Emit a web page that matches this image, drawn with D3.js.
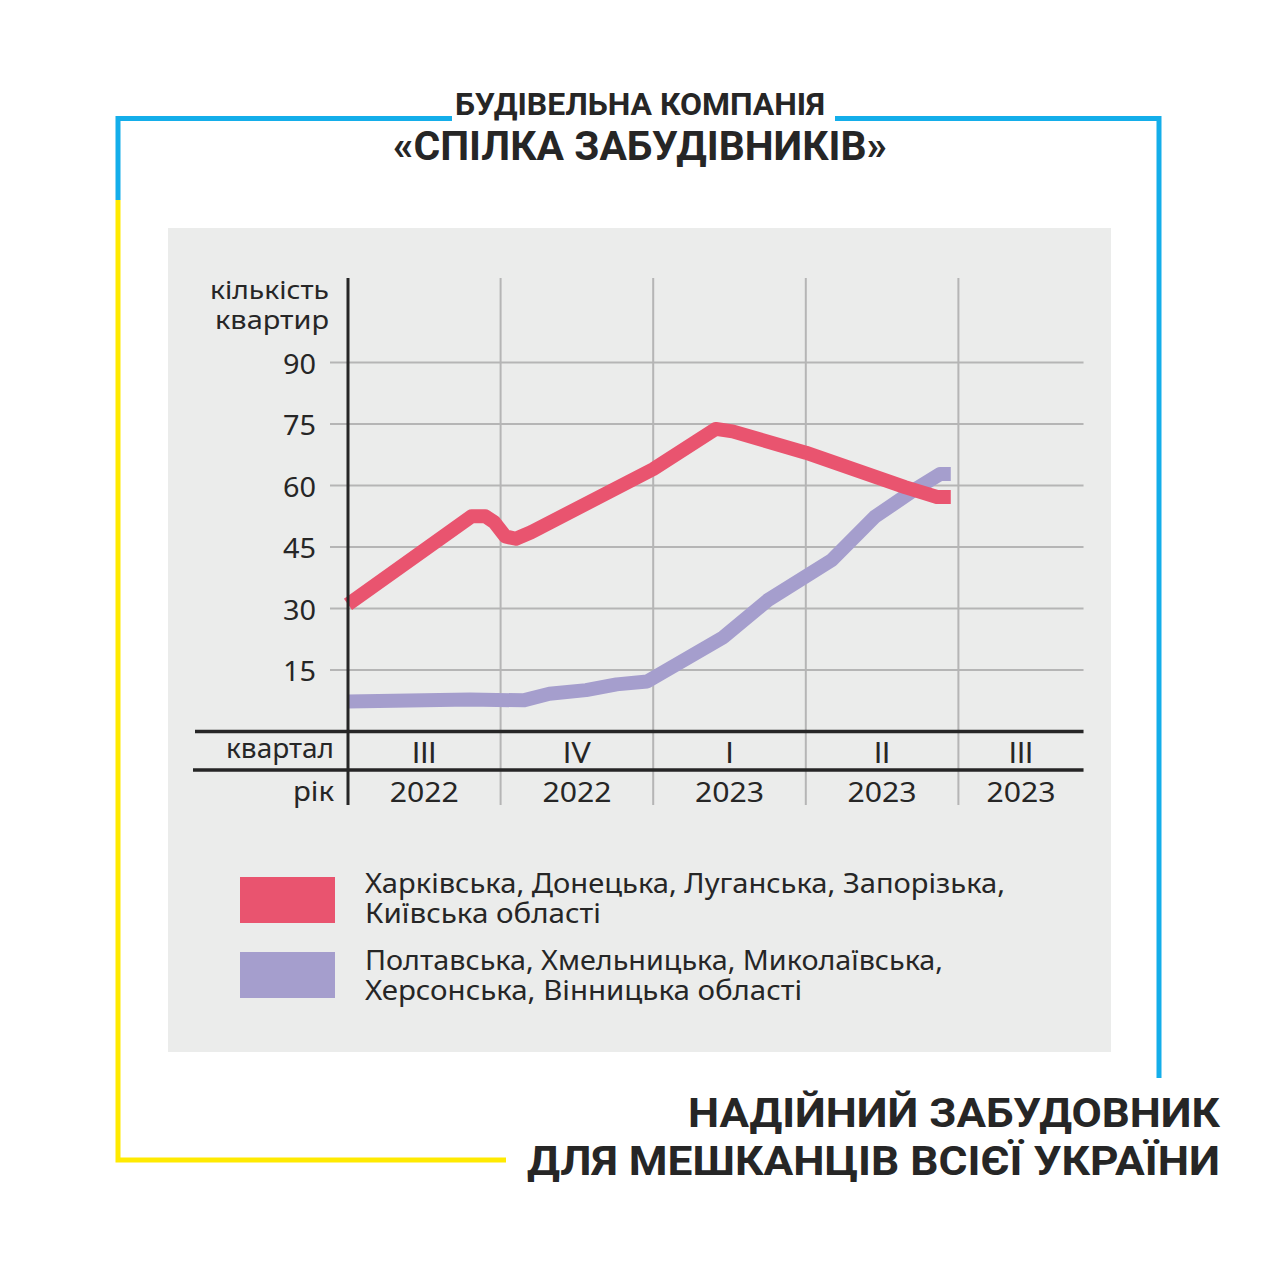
<!DOCTYPE html>
<html>
<head>
<meta charset="utf-8">
<script src="https://cdn.jsdelivr.net/npm/d3@7"></script>
<style>
  body { margin: 0; background: #fff; }
  svg { display: block; }
</style>
</head>
<body>
<svg id="chart" width="1280" height="1280"></svg>
<script>
// Data: x is position in quarters from start of III 2022
const redX = [0, 0.81, 0.9, 0.96, 1.03, 1.1, 1.2, 2.0, 2.41, 2.52, 3.0, 3.65, 3.86, 3.95];
const redY = [31, 52.5, 52.5, 51, 47.6, 47, 48.6, 64, 73.8, 73.2, 68, 59.6, 57.2, 57.2];
const purpleX = [0, 0.8, 1.15, 1.32, 1.56, 1.76, 1.96, 2.46, 2.75, 3.17, 3.45, 3.71, 3.88, 3.95];
const purpleY = [7.3, 7.8, 7.6, 9.2, 10.1, 11.5, 12.2, 23, 32, 41.8, 52.3, 58.9, 62.8, 62.8];

const yTicks = [15, 30, 45, 60, 75, 90];
const quarters = ["III", "IV", "I", "II", "III"];
const years = ["2022", "2022", "2023", "2023", "2023"];
const quarterStarts = [0, 1, 2, 3, 4];
const quarterMids = [0.5, 1.5, 2.5, 3.5, 4.41];

const legendLines = [
  ["Харківська, Донецька, Луганська, Запорізька,", "Київська області"],
  ["Полтавська, Хмельницька, Миколаївська,", "Херсонська, Вінницька області"]
];

const RED = "#e9546f";
const PURPLE = "#a59ecd";
const TEXT = "#262626";
const GRID = "#b5b5b5";
const FONT = "'Noto Sans', 'Open Sans', sans-serif";
const BOLD = "Roboto, 'Open Sans', sans-serif";

const svg = d3.select("#chart");

// fit text to a measured width
function fit(sel, w) {
  sel.attr("textLength", w).attr("lengthAdjust", "spacingAndGlyphs");
}

// frame lines: blue top/right, blue then yellow on the left
const frame = svg.append("g").attr("fill", "none").attr("stroke-width", 5);
frame.append("path").attr("stroke", "#14aeea").attr("d", "M118,200 V118.5 H452");
frame.append("path").attr("stroke", "#14aeea").attr("d", "M835,118.5 H1159 V1078");
frame.append("path").attr("stroke", "#ffea00").attr("d", "M118,200 V1160 H506");

// titles
svg.append("text")
  .attr("x", 455).attr("y", 115)
  .attr("font-family", BOLD).attr("font-weight", 700).attr("font-size", 31)
  .attr("fill", TEXT)
  .text("БУДІВЕЛЬНА КОМПАНІЯ")
  .call(fit, 370);
svg.append("text")
  .attr("x", 393).attr("y", 160)
  .attr("font-family", BOLD).attr("font-weight", 700).attr("font-size", 40)
  .attr("fill", TEXT)
  .text("«СПІЛКА ЗАБУДІВНИКІВ»")
  .call(fit, 494);

svg.append("text")
  .attr("x", 688).attr("y", 1127)
  .attr("font-family", BOLD).attr("font-weight", 700).attr("font-size", 41)
  .attr("fill", TEXT)
  .text("НАДІЙНИЙ ЗАБУДОВНИК")
  .call(fit, 532);
svg.append("text")
  .attr("x", 527).attr("y", 1175)
  .attr("font-family", BOLD).attr("font-weight", 700).attr("font-size", 41)
  .attr("fill", TEXT)
  .text("ДЛЯ МЕШКАНЦІВ ВСІЄЇ УКРАЇНИ")
  .call(fit, 693);

// grey panel
svg.append("rect")
  .attr("x", 168).attr("y", 228).attr("width", 943).attr("height", 824)
  .attr("fill", "#ebeceb");

// scales
const x = d3.scaleLinear().domain([0, 4.82]).range([348, 348 + 4.82 * 152.6]);
const y = d3.scaleLinear().domain([0, 90]).range([731.5, 362.5]);
const xEnd = x.range()[1];

// horizontal gridlines
svg.append("g").selectAll("line")
  .data(yTicks)
  .join("line")
  .attr("x1", 330).attr("x2", xEnd)
  .attr("y1", d => y(d)).attr("y2", d => y(d))
  .attr("stroke", GRID).attr("stroke-width", 2);

// vertical gridlines at quarter boundaries
svg.append("g").selectAll("line")
  .data(quarterStarts.slice(1))
  .join("line")
  .attr("x1", d => x(d)).attr("x2", d => x(d))
  .attr("y1", 278).attr("y2", 805)
  .attr("stroke", GRID).attr("stroke-width", 2);

// y tick labels
svg.append("g").selectAll("text")
  .data(yTicks)
  .join("text")
  .attr("x", 316).attr("y", d => y(d) + 11)
  .attr("text-anchor", "end")
  .attr("font-family", FONT).attr("font-size", 27).attr("fill", TEXT)
  .text(d => d)
  .call(fit, 33);

// y axis title
svg.append("text")
  .attr("text-anchor", "end")
  .attr("font-family", FONT).attr("font-size", 26).attr("fill", TEXT)
  .selectAll("tspan")
  .data(["кількість", "квартир"])
  .join("tspan")
  .attr("x", 329).attr("y", (d, i) => 299 + i * 30)
  .attr("textLength", (d, i) => [119, 114][i])
  .attr("lengthAdjust", "spacingAndGlyphs")
  .text(d => d);

// lines
const line = d3.line().x(d => x(d[0])).y(d => y(d[1]));
const series = [
  { color: PURPLE, pts: d3.zip(purpleX, purpleY) },
  { color: RED, pts: d3.zip(redX, redY) }
];
svg.append("g").selectAll("path")
  .data(series)
  .join("path")
  .attr("d", d => line(d.pts))
  .attr("fill", "none")
  .attr("stroke", d => d.color)
  .attr("stroke-width", 14)
  .attr("stroke-linejoin", "round")
  .attr("stroke-linecap", "butt");

// axis lines
svg.append("line")
  .attr("x1", x(0)).attr("x2", x(0)).attr("y1", 278).attr("y2", 805)
  .attr("stroke", TEXT).attr("stroke-width", 3);
svg.append("line")
  .attr("x1", 195).attr("x2", xEnd).attr("y1", y(0)).attr("y2", y(0))
  .attr("stroke", TEXT).attr("stroke-width", 3.5);
svg.append("line")
  .attr("x1", 193).attr("x2", xEnd).attr("y1", 770).attr("y2", 770)
  .attr("stroke", TEXT).attr("stroke-width", 3.5);

// quarter and year rows
svg.append("text")
  .attr("x", 334).attr("y", 758).attr("text-anchor", "end")
  .attr("font-family", FONT).attr("font-size", 27).attr("fill", TEXT)
  .text("квартал")
  .call(fit, 108);
svg.append("text")
  .attr("x", 334).attr("y", 801).attr("text-anchor", "end")
  .attr("font-family", FONT).attr("font-size", 27).attr("fill", TEXT)
  .text("рік")
  .call(fit, 41);

svg.append("g").selectAll("text")
  .data(quarters)
  .join("text")
  .attr("x", (d, i) => x(quarterMids[i])).attr("y", 763)
  .attr("text-anchor", "middle")
  .attr("font-family", "Lato, Roboto, sans-serif").attr("font-weight", 400)
  .attr("font-size", 29).attr("fill", TEXT)
  .text(d => d);

svg.append("g").selectAll("text")
  .data(years)
  .join("text")
  .attr("x", (d, i) => x(quarterMids[i])).attr("y", 802)
  .attr("text-anchor", "middle")
  .attr("font-family", FONT).attr("font-size", 27).attr("fill", TEXT)
  .text(d => d)
  .call(fit, 69);

// legend
const legend = svg.append("g");
const legendWidths = [[640, 236], [578, 437]];
[RED, PURPLE].forEach((c, i) => {
  const top = 877 + i * 75;
  legend.append("rect")
    .attr("x", 240).attr("y", top).attr("width", 95).attr("height", 46)
    .attr("fill", c);
  legendLines[i].forEach((t, j) => {
    legend.append("text")
      .attr("x", 365).attr("y", 893 + i * 77 + j * 30)
      .attr("font-family", FONT).attr("font-size", 27).attr("fill", TEXT)
      .text(t)
      .call(fit, legendWidths[i][j]);
  });
});
</script>
</body>
</html>
